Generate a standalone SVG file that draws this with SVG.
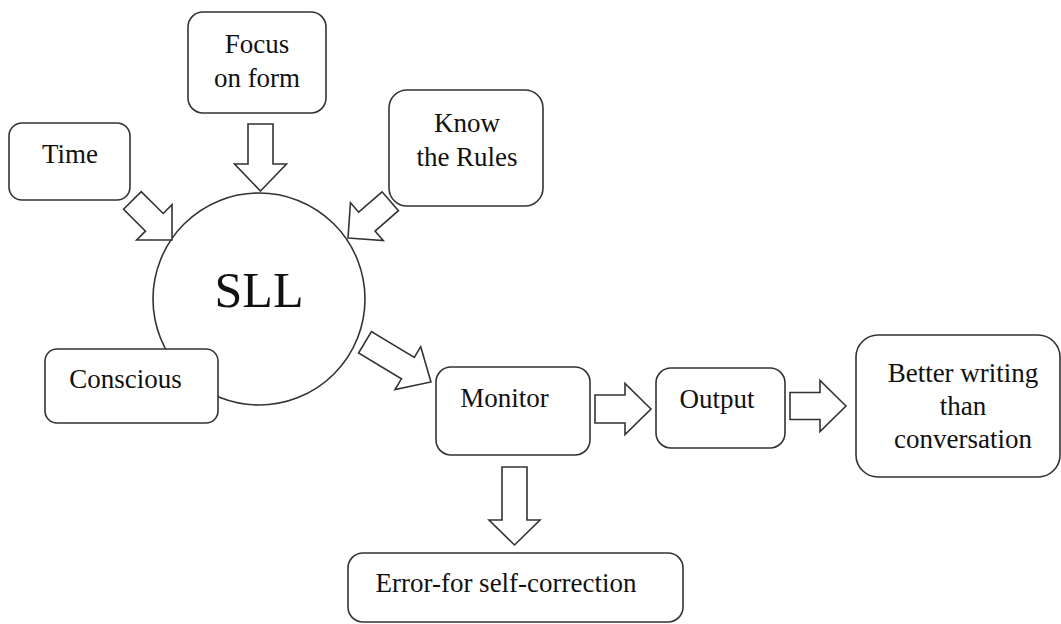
<svg xmlns="http://www.w3.org/2000/svg" width="1061" height="624" viewBox="0 0 1061 624">
<style>
.box{fill:#fff;stroke:#333;stroke-width:1.6}
.arr{fill:#fff;stroke:#333;stroke-width:1.6;stroke-linejoin:miter}
.t{font-family:"Liberation Serif","Times New Roman",serif;font-size:27px;fill:#111;text-anchor:middle}
.big{font-family:"Liberation Serif","Times New Roman",serif;font-size:50px;fill:#111;text-anchor:middle}
</style>
<rect width="1061" height="624" fill="#fff"/>
<g id="sll">
<circle class="box" cx="259" cy="299" r="106"/>
<text class="big" x="259" y="307">SLL</text>
</g>
<g id="time">
<rect class="box" x="9" y="123" width="121" height="77" rx="13"/>
<text class="t" x="70" y="163">Time</text>
</g>
<g id="focus">
<rect class="box" x="188" y="12" width="138" height="101" rx="15"/>
<text class="t" x="257" y="53">Focus</text>
<text class="t" x="257" y="87">on form</text>
</g>
<g id="know">
<rect class="box" x="389" y="90" width="154" height="116" rx="18"/>
<text class="t" x="467" y="132">Know</text>
<text class="t" x="467" y="166">the Rules</text>
</g>
<g id="conscious">
<rect class="box" x="45" y="349" width="173" height="74" rx="12"/>
<text class="t" x="125.5" y="388">Conscious</text>
</g>
<g id="monitor">
<rect class="box" x="436" y="367" width="154" height="88" rx="15"/>
<text class="t" x="504.5" y="407">Monitor</text>
</g>
<g id="output">
<rect class="box" x="656" y="368" width="129" height="80" rx="15"/>
<text class="t" x="717" y="408">Output</text>
</g>
<g id="better">
<rect class="box" x="856" y="335" width="204" height="142" rx="22"/>
<text class="t" x="963" y="382">Better writing</text>
<text class="t" x="963" y="415">than</text>
<text class="t" x="963" y="448">conversation</text>
</g>
<g id="error">
<rect class="box" x="348" y="553" width="335" height="69" rx="15"/>
<text class="t" x="506" y="592">Error-for self-correction</text>
</g>
<g id="connectors">
<polygon class="arr" transform="translate(172,240) rotate(45)" points="0,0 -25,-25 -25,-12.5 -56,-12.5 -56,12.5 -25,12.5 -25,25"/>
<polygon class="arr" transform="translate(260.5,191) rotate(90)" points="0,0 -27,-26 -27,-12.5 -67,-12.5 -67,12.5 -27,12.5 -27,26"/>
<polygon class="arr" transform="translate(348,238) rotate(139)" points="0,0 -25,-25 -25,-12.5 -56,-12.5 -56,12.5 -25,12.5 -25,25"/>
<polygon class="arr" transform="translate(431,382) rotate(31)" points="0,0 -27,-25 -27,-12.5 -77,-12.5 -77,12.5 -27,12.5 -27,25"/>
<polygon class="arr" transform="translate(651,409) rotate(0)" points="0,0 -26,-25.5 -26,-14 -56,-14 -56,14 -26,14 -26,25.5"/>
<polygon class="arr" transform="translate(846,406) rotate(0)" points="0,0 -26,-25.5 -26,-13.5 -56,-13.5 -56,13.5 -26,13.5 -26,25.5"/>
<polygon class="arr" transform="translate(514.5,545) rotate(90)" points="0,0 -25,-25.5 -25,-12.5 -78,-12.5 -78,12.5 -25,12.5 -25,25.5"/>
</g>
</svg>
